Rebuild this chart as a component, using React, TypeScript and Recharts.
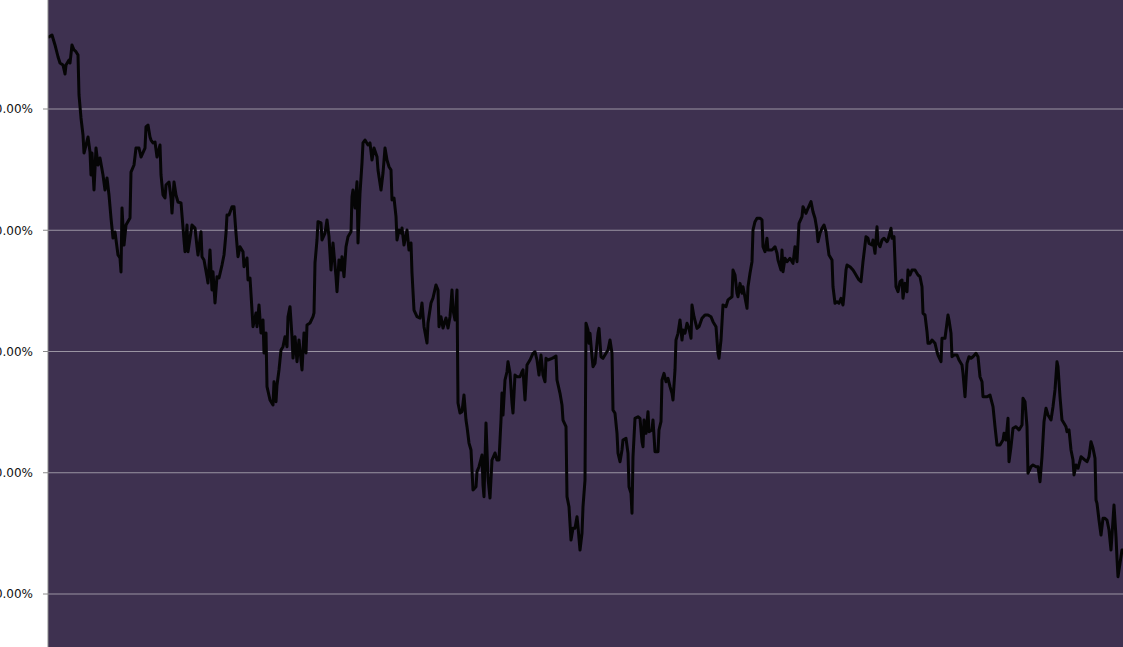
import React from "react";
import { LineChart, Line, XAxis, YAxis, CartesianGrid, ReferenceLine } from "recharts";

// [trading day, cumulative return %]
const seg1: [number, number][] = [[0,45.9],[4,46.1],[7,45.28],[10,44.31],[12,43.79],[15,43.63],[17,42.89],[18,43.63],[21,44.04],[22,43.79],[24,45.28],[26,44.87],[28,44.73],[30,44.45],[31,41.16],[33,39.26],[35,37.86],[36,36.37],[38,37.03],[40,37.69],[42,36.45],[43,34.56],[44,36.37],[46,33.32],[48,36.78],[50,35.38],[52,35.96],[55,34.56],[57,33.32],[59,34.31],[61,32.91],[63,31.01],[65,29.36],[67,29.86],[70,27.96],[72,27.71],[73,26.56],[74,31.84],[76,28.78],[78,30.43],[82,31.01],[83,34.8],[86,35.38],[88,36.78],[91,36.78],[93,36.04],[97,36.78],[98,38.52],[100,38.68],[102,37.69],[103,37.44],[105,37.2],[107,37.28],[109,36.04],[112,37.03],[113,34.56],[115,32.91],[117,32.66],[118,33.73],[121,33.98],[123,32.66],[124,31.42],[126,33.98],[128,32.91],[130,32.33],[133,32.25]];
const seg2: [number, number][] = [[136,29.2],[137,28.23],[139,30.43],[140,28.23],[144,30.43],[147,30.19],[149,28.64],[150,27.96],[153,29.88],[154,27.82],[156,27.55],[159,26.17],[160,25.65],[162,28.37],[164,25.07],[165,26.58],[167,24.0],[169,26.17],[171,26.06],[174,27.13],[176,27.96],[178,29.77],[179,31.26],[181,31.26],[184,31.94],[186,31.94],[188,29.77],[190,27.82],[192,28.64],[195,28.23],[196,26.99],[199,27.71],[200,25.9],[202,26.06],[204,23.42],[205,22.05],[208,23.18],[209,22.05],[211,23.84],[213,21.53],[215,22.6],[216,19.88],[218,21.53],[219,17.1],[222,16.0],[225,15.59],[226,17.51],[228,15.86],[229,17.24],[231,18.48],[233,20.12],[235,20.4],[237,21.22],[239,20.4],[240,22.87],[242,23.7],[244,21.22],[245,19.46],[247,21.22],[249,19.16],[251,20.95],[254,18.48],[256,21.53],[258,19.88],[259,22.19],[262,22.35],[265,22.87],[266,23.18],[267,27.3],[269,29.2],[270,30.71]];
const seg3: [number, number][] = [[273,30.6],[274,29.2],[277,29.77],[279,30.85],[281,29.47],[283,26.72],[285,28.95],[288,26.17],[289,24.93],[291,27.55],[293,26.72],[294,27.82],[296,26.17],[298,28.64],[300,29.47],[303,29.88],[304,32.77],[305,33.32],[307,31.84],[309,34.0],[310,28.95],[312,33.07],[314,35.55],[315,37.2],[317,37.44],[320,37.03],[322,37.2],[324,35.79],[326,36.78],[329,36.07],[330,34.97],[333,33.32],[335,34.72],[337,36.78],[339,35.79],[341,35.24],[343,34.97],[344,32.5],[346,32.66],[348,31.12],[349,29.2],[351,30.02],[353,29.77],[354,30.19],[356,28.78],[359,30.02],[361,28.37],[363,28.95],[364,26.48],[366,23.42],[369,22.87],[372,22.76],[374,24.0],[376,22.05],[379,20.7],[380,22.35],[383,24.0],[385,24.41],[388,25.49],[390,25.07],[391,22.05],[393,22.87],[395,21.94],[398,22.76],[400,21.94],[402,22.87],[404,25.07],[405,23.42]];
const seg4: [number, number][] = [[407,22.6],[409,25.07],[410,15.75],[412,14.93],[414,15.04],[416,16.41],[418,14.35],[419,13.8],[421,12.45],[423,11.88],[425,8.58],[428,8.85],[429,10.09],[431,10.5],[434,11.46],[435,8.99],[436,8.03],[438,14.1],[440,9.57],[442,7.92],[444,11.05],[447,11.63],[449,11.05],[451,11.05],[453,14.35],[454,16.58],[455,14.76],[457,17.65],[459,18.33],[460,19.16],[462,18.23],[464,15.75],[465,14.93],[467,18.06],[469,17.92],[472,17.92],[474,18.33],[475,18.48],[477,16.0],[479,18.89],[480,19.03],[482,19.3],[485,19.85],[487,19.98],[489,19.3],[491,18.06],[493,19.71],[495,18.06],[497,17.51],[498,19.44],[500,19.3],[504,19.44],[506,19.52],[508,19.63],[509,17.65],[512,16.55],[514,15.59],[515,14.35],[518,13.8],[519,8.03],[521,7.2],[523,4.45],[525,5.42],[527,5.42],[529,6.37],[530,5.55],[532,3.63],[534,5.01],[535,7.2],[537,9.4],[538,22.33],[540,21.77]];
const seg5: [number, number][] = [[541,20.68],[542,21.5],[544,19.57],[545,18.75],[547,19.03],[550,21.5],[551,21.91],[553,19.57],[555,19.44],[558,19.85],[560,20.12],[562,20.95],[564,19.85],[565,15.18],[567,14.9],[569,13.25],[570,11.61],[572,10.91],[574,11.88],[575,12.7],[578,12.84],[580,11.61],[581,8.85],[583,8.31],[584,6.66],[585,11.32],[587,14.49],[590,14.62],[592,14.49],[594,12.56],[595,12.15],[596,14.35],[598,13.25],[600,15.04],[601,13.39],[604,13.53],[605,14.35],[607,11.74],[610,11.74],[611,13.53],[613,14.21],[614,17.65],[616,18.2],[618,17.51],[620,17.79],[622,17.1],[624,16.55],[625,16.0],[627,18.48],[628,20.95],[630,21.5],[632,22.6],[634,20.95],[635,21.77],[637,21.5],[639,22.33],[641,21.91],[643,21.09],[644,23.84],[646,22.87],[649,21.91],[651,22.05],[654,22.74],[657,23.01],[660,23.01],[663,22.87],[665,22.46],[668,22.05],[670,19.85],[671,19.44],[673,20.95]];
const seg6: [number, number][] = [[675,23.84],[678,23.7],[680,24.26],[684,24.52],[685,26.72],[687,26.31],[689,24.8],[690,24.52],[692,25.62],[694,24.8],[695,25.34],[699,23.56],[700,25.34],[702,26.45],[704,27.41],[705,30.02],[707,30.71],[709,30.99],[712,30.99],[714,30.85],[715,28.64],[717,28.23],[719,29.34],[720,28.37],[724,28.37],[727,28.64],[729,28.1],[730,27.55],[733,26.72],[734,28.37],[735,26.58],[737,27.69],[739,27.41],[742,27.69],[745,27.27],[747,28.64],[749,27.41],[751,30.57],[754,31.12],[755,31.94],[758,31.4],[760,31.81],[763,32.36],[765,31.53],[767,30.99],[769,30.02],[770,29.06],[772,29.75],[774,30.16],[776,30.43],[778,29.88],[779,29.2],[781,27.96],[784,27.55],[785,25.34],[787,23.98],[789,24.11],[791,23.98],[793,24.39],[795,23.84],[796,24.66],[798,26.72],[799,27.13],[802,26.99],[805,26.72],[807,26.45],[809,26.17],[811,25.9]];
const seg7: [number, number][] = [[813,25.76],[815,27.41],[818,29.47],[820,29.34],[821,28.92],[824,28.78],[825,29.2],[827,28.1],[829,30.29],[830,28.92],[832,28.64],[834,29.2],[836,29.34],[839,29.06],[840,29.2],[843,30.16],[844,29.34],[846,29.47],[848,25.34],[850,24.93],[852,25.76],[854,25.9],[855,24.39],[857,25.62],[859,24.93],[860,26.72],[862,26.31],[864,26.72],[867,26.72],[870,26.31],[872,26.17],[874,25.34],[875,23.15],[877,23.01],[879,21.63],[880,20.68],[882,20.68],[884,20.95],[887,20.68],[889,19.98],[890,19.71],[893,19.16],[894,21.09],[897,21.09],[900,23.01],[901,22.6],[903,21.5],[904,19.57],[906,19.71],[909,19.71],[911,19.3],[914,18.89],[915,18.2],[917,16.27],[919,19.03],[921,19.57],[923,19.44],[925,19.57],[928,19.85],[930,19.57],[932,17.92],[934,17.51],[935,16.27],[939,16.27],[942,16.41]];
const seg8: [number, number][] = [[945,15.45],[947,13.8],[949,12.29],[952,12.29],[955,12.7],[956,13.25],[958,12.7],[960,14.49],[961,10.91],[963,12.15],[965,13.67],[968,13.8],[971,13.53],[974,13.94],[975,16.14],[977,15.86],[979,13.8],[980,9.96],[983,10.5],[985,10.64],[988,10.5],[990,10.5],[992,9.26],[994,11.32],[996,14.21],[998,15.32],[1000,14.76],[1003,14.35],[1005,15.45],[1007,16.83],[1009,19.16],[1010,18.75],[1012,16.27],[1014,14.35],[1016,14.08],[1018,13.8],[1019,13.39],[1021,13.53],[1023,11.88],[1025,11.05],[1026,9.82],[1028,10.64],[1030,10.37],[1033,11.32],[1035,11.19],[1037,11.05],[1039,10.91],[1041,11.32],[1043,12.56],[1045,12.02],[1047,11.19],[1048,7.75],[1049,7.48],[1051,6.1],[1053,4.87],[1055,6.24],[1057,6.24],[1059,6.1],[1061,5.28],[1063,3.63],[1065,6.1],[1066,7.34],[1068,4.73],[1069,2.94],[1070,1.43],[1072,2.53],[1074,3.63],[1075,3.63]];

const yTicks = [0, 10, 20, 30, 40];
// plot area bleeds 2px past the top, right and bottom edges of the page
const yDomain: [number, number] = [-4.535, 49.155];
const xDomain: [number, number] = [0, 1077];

const data = [...seg1, ...seg2, ...seg3, ...seg4, ...seg5, ...seg6, ...seg7, ...seg8].map(
  ([day, value]) => ({ day, value })
);

export default function App() {
  return (
    <div style={{ position: "fixed", inset: 0, overflow: "hidden", background: "#fff" }}>
      <div style={{ position: "absolute", left: 0, top: -2, width: 1125, height: 651 }}>
        <LineChart width={1125} height={651} data={data} margin={{ top: 0, right: 0, bottom: 0, left: 0 }}>
          <CartesianGrid horizontal={false} vertical={false} fill="#3e3150" fillOpacity={1} />
          <XAxis dataKey="day" type="number" domain={xDomain} hide allowDataOverflow />
          <YAxis
            type="number"
            domain={yDomain}
            ticks={yTicks}
            allowDataOverflow
            width={48}
            interval={0}
            tickFormatter={(v: number) => `${v.toFixed(2)}%`}
            tick={{ fill: "#111", fontSize: 12, fontFamily: "DejaVu Sans" }}
            tickSize={5}
            tickMargin={10}
            axisLine={{ stroke: "#8a8a8a" }}
            tickLine={{ stroke: "#8a8a8a" }}
          />
          {yTicks.map((t) => (
            <ReferenceLine key={t} y={t} stroke="#9a94a2" strokeWidth={1} ifOverflow="hidden" />
          ))}
          <Line
            type="linear"
            dataKey="value"
            stroke="#050505"
            strokeWidth={3}
            dot={false}
            isAnimationActive={false}
            strokeLinejoin="round"
          />
        </LineChart>
      </div>
    </div>
  );
}
